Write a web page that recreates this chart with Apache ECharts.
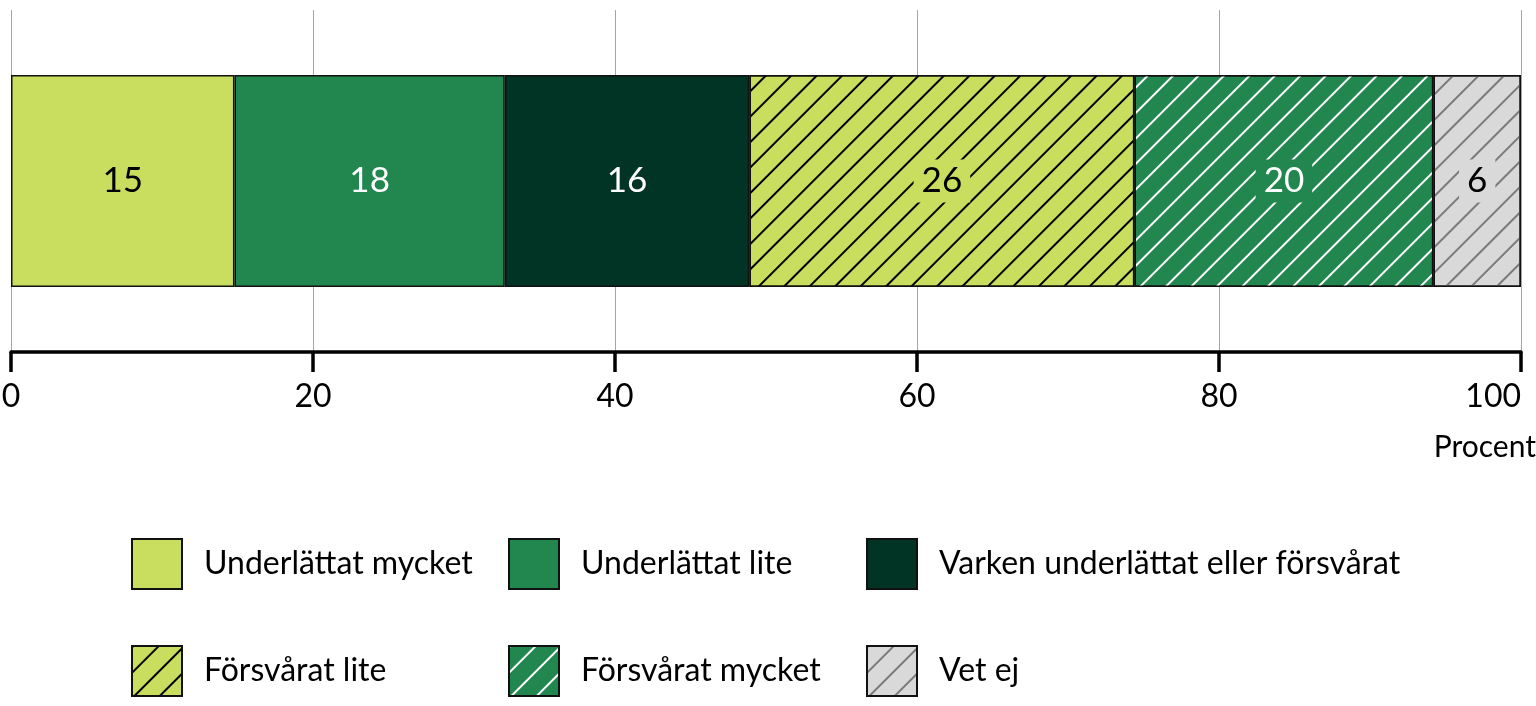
<!DOCTYPE html>
<html>
<head>
<meta charset="utf-8">
<script src="https://cdn.jsdelivr.net/npm/echarts@6/dist/echarts.min.js"></script>
<style>
  html, body { margin: 0; padding: 0; background: #fff; }
  #container { width: 1536px; height: 706px; }
</style>
</head>
<body>
<div id="container"></div>
<script>
// one bar, six answers (percent)
var categories = ['Alla'];
var seriesNames = ['Underlättat mycket', 'Underlättat lite', 'Varken underlättat eller försvårat',
                   'Försvårat lite', 'Försvårat mycket', 'Vet ej'];
var values = [14.8, 17.9, 16.2, 25.5, 19.8, 5.8];
var xTicks = [0, 20, 40, 60, 80, 100];

var fills = ['#c9dd5f', '#22864f', '#013424', '#c9dd5f', '#22864f', '#d9d9d9'];
var hatch = [null, null, null, '#000000', '#ffffff', '#7a7a7a'];
var labelColors = ['#000', '#fff', '#fff', '#000', '#fff', '#000'];
var legendPos = [[131, 538], [508, 538], [866, 538], [131, 645], [508, 645], [866, 645]];

var FONT = 'Lato';

var series = [];
for (var i = 0; i < values.length; i++) {
    var itemStyle = {color: fills[i], borderColor: '#111', borderWidth: 1.5};
    var label = {
        show: true,
        position: 'inside',
        color: labelColors[i],
        fontSize: 35,
        fontFamily: FONT,
        formatter: function (p) { return Math.round(p.value); }
    };
    if (hatch[i]) {
        itemStyle.decal = {
            symbol: 'rect',
            symbolSize: 1,
            dashArrayX: [1, 0],
            dashArrayY: [2, 16],
            rotation: -Math.PI / 4,
            color: hatch[i]
        };
        label.backgroundColor = fills[i];
        label.padding = [4, 8];
    }
    series.push({
        name: seriesNames[i],
        type: 'bar',
        stack: 'total',
        barWidth: 212,
        data: [values[i]],
        itemStyle: itemStyle,
        label: label,
        emphasis: {disabled: true}
    });
}

var legends = [];
for (var j = 0; j < seriesNames.length; j++) {
    legends.push({
        data: [seriesNames[j]],
        left: legendPos[j][0],
        top: legendPos[j][1],
        padding: 0,
        icon: 'rect',
        itemWidth: 50,
        itemHeight: 50,
        selectedMode: false,
        textStyle: {fontSize: 32, fontFamily: FONT, color: '#000', padding: [0, 0, 0, 17]}
    });
}

var myChart = echarts.init(document.getElementById('container'));

var option = {
    animation: false,
    textStyle: {fontFamily: FONT},
    grid: {left: 11, right: 15, top: 10, bottom: 354, containLabel: false, outerBoundsMode: 'none'},
    xAxis: {
        type: 'value',
        min: xTicks[0],
        max: xTicks[xTicks.length - 1],
        interval: 20,
        name: 'Procent',
        nameLocation: 'end',
        nameGap: 15,
        nameTextStyle: {fontSize: 30, fontFamily: FONT, color: '#000', align: 'right',
                        verticalAlign: 'top', padding: [80, 0, 0, 0]},
        axisLine: {show: true, lineStyle: {color: '#000', width: 3.5}},
        axisTick: {show: true, length: 20, lineStyle: {color: '#000', width: 3.5}},
        axisLabel: {fontSize: 32, fontFamily: FONT, color: '#000', margin: 29, alignMaxLabel: 'right'},
        splitLine: {show: true, lineStyle: {color: '#a6a6a6', width: 1}}
    },
    yAxis: {
        type: 'category',
        data: categories,
        show: false
    },
    legend: legends,
    series: series
};

// 为echarts对象加载数据
myChart.setOption(option);
</script>
</body>
</html>
